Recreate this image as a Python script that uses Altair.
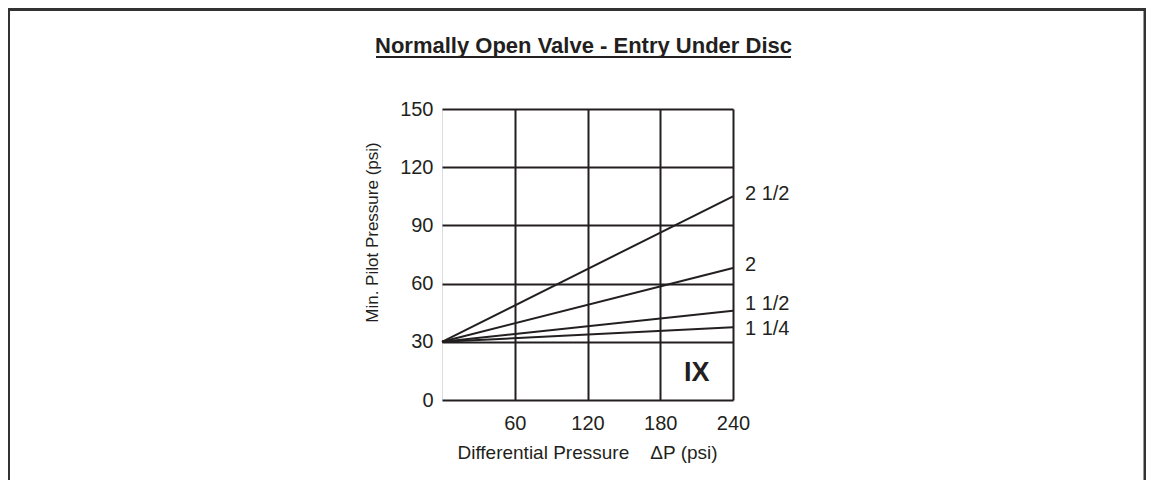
import altair as alt
import pandas as pd

# ---- data ----
sizes = ["1 1/4", "1 1/2", "2", "2 1/2"]
dp_start = [0, 0, 0, 0]
dp_end = [240, 240, 240, 240]
pilot_start = [30, 30, 30, 30]
pilot_end = [37.5, 46, 68, 105]
label_pilot = [36.5, 49.5, 69.5, 106]

x_ticks = [60, 120, 180, 240]
y_ticks = [0, 30, 60, 90, 120, 150]

chart_title = "Normally Open Valve - Entry Under Disc"
x_title = "Differential Pressure\u00a0\u00a0\u00a0 \u0394P (psi)"
y_title = "Min. Pilot Pressure (psi)"
region_label = "IX"
region_dp = [210]
region_pilot = [14]

INK = "#231f20"
FONT = "Liberation Sans"

rows = []
for s, x0, x1, y0, y1 in zip(sizes, dp_start, dp_end, pilot_start, pilot_end):
    rows.append({"size": s, "dp": x0, "pilot": y0})
    rows.append({"size": s, "dp": x1, "pilot": y1})
lines_df = pd.DataFrame(rows)
labels_df = pd.DataFrame({"size": sizes, "dp": dp_end, "pilot": label_pilot})
region_df = pd.DataFrame({"t": [region_label], "dp": region_dp, "pilot": region_pilot})
title_df = pd.DataFrame({"t": [chart_title]})

xscale = alt.Scale(domain=[0, 240], nice=False, zero=True)
yscale = alt.Scale(domain=[0, 150], nice=False, zero=True)

xaxis = alt.Axis(
    values=x_ticks, grid=True, gridColor=INK, gridWidth=2, gridOpacity=1,
    domain=False, ticks=False, tickSize=0, labelPadding=13,
    labelFontSize=20, labelFont=FONT, labelColor=INK, labelFlush=False,
    labelOverlap=False, title=x_title, titleFont=FONT, titleFontSize=19,
    titleFontWeight="normal", titleColor=INK, titleX=145, titleY=58,
    titleAlign="center", titleBaseline="alphabetic",
)
yaxis = alt.Axis(
    values=y_ticks, grid=True, gridColor=INK, gridWidth=2, gridOpacity=1,
    domain=False, ticks=False, tickSize=0, labelPadding=9,
    labelFontSize=20, labelFont=FONT, labelColor=INK, labelFlush=False,
    labelOverlap=False, title=y_title, titleFont=FONT, titleFontSize=17,
    titleFontWeight="normal", titleColor=INK, titleX=-70, titleY=123,
    titleAngle=270, titleAlign="center", titleBaseline="middle",
)

lines = alt.Chart(lines_df).mark_line(color=INK, strokeWidth=2).encode(
    x=alt.X("dp:Q", scale=xscale, axis=xaxis),
    y=alt.Y("pilot:Q", scale=yscale, axis=yaxis),
    detail="size:N",
)

labels = alt.Chart(labels_df).mark_text(
    align="left", baseline="middle", dx=12, font=FONT, fontSize=20, color=INK
).encode(
    x=alt.X("dp:Q", scale=xscale),
    y=alt.Y("pilot:Q", scale=yscale),
    text="size:N",
)

region = alt.Chart(region_df).mark_text(
    align="center", baseline="middle", font=FONT, fontSize=27,
    fontWeight="bold", color=INK
).encode(
    x=alt.X("dp:Q", scale=xscale),
    y=alt.Y("pilot:Q", scale=yscale),
    text="t:N",
)

title = alt.Chart(title_df).mark_text(
    align="center", baseline="alphabetic", font=FONT, fontSize=22,
    fontWeight="bold", color=INK
).encode(x=alt.value(141.5), y=alt.value(-56), text="t:N")

underline = alt.Chart(title_df).mark_rule(color=INK, strokeWidth=1.8).encode(
    x=alt.value(-66), x2=alt.value(349), y=alt.value(-52)
)

border = alt.Chart(title_df).mark_rect(
    fillOpacity=0, stroke="#333333", strokeWidth=3
).encode(
    x=alt.value(-433.5), x2=alt.value(703), y=alt.value(-99.5), y2=alt.value(700)
)

chart = alt.layer(border, lines, labels, region, title, underline).properties(
    width=291,
    height=291,
    autosize=alt.AutoSizeParams(type="none"),
    padding={"left": 434, "top": 101, "right": 413, "bottom": 80},
).configure_view(stroke=INK, strokeWidth=2).configure(background="white")

chart.save("out.html", embed_options={"renderer": "svg", "actions": False})
